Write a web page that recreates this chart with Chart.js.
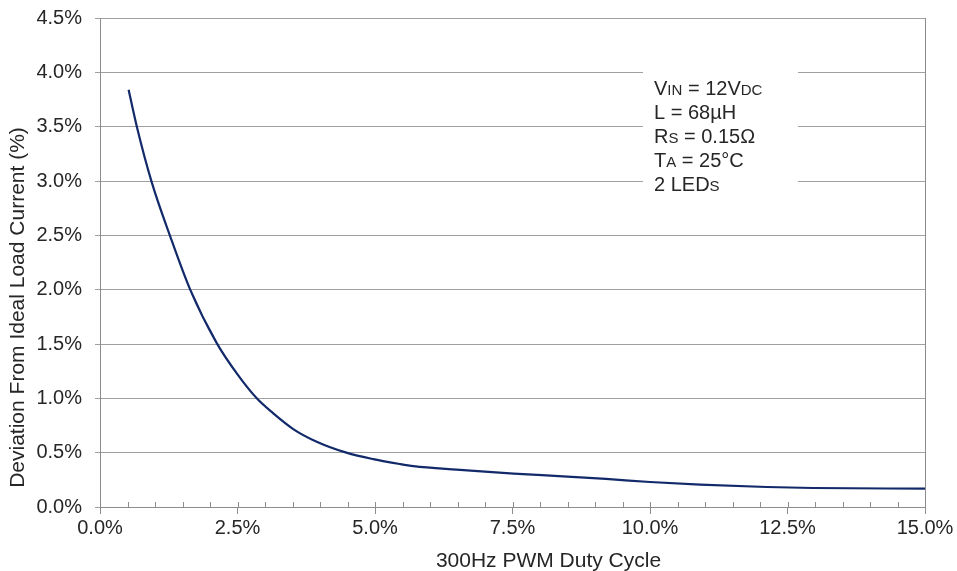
<!DOCTYPE html>
<html>
<head>
<meta charset="utf-8">
<script src="https://cdn.jsdelivr.net/npm/chart.js@4/dist/chart.umd.min.js"></script>
<style>
  html, body { margin: 0; padding: 0; background: #ffffff; }
  #wrap { width: 957px; height: 571px; }
</style>
</head>
<body>
<div id="wrap"><canvas id="c" width="957" height="571"></canvas></div>
<script>
// ---- data ----
const dutyCycle = [0.52, 0.67, 0.94, 1.27, 1.64, 2.12, 2.5, 2.85, 3.15, 3.52, 3.94, 4.48, 4.97, 5.45, 5.7, 6.48, 7.52, 8.42, 9.2, 10.0, 10.91, 12.12, 12.97, 15.0];
const deviation = [3.84, 3.50, 2.99, 2.50, 2.00, 1.51, 1.22, 1.00, 0.862, 0.715, 0.601, 0.50, 0.44, 0.396, 0.377, 0.344, 0.307, 0.282, 0.258, 0.23, 0.206, 0.184, 0.175, 0.169];
const xTickValues = [0, 2.5, 5, 7.5, 10, 12.5, 15];
const yTickValues = [0, 0.5, 1, 1.5, 2, 2.5, 3, 3.5, 4, 4.5];
const xTitle = '300Hz PWM Duty Cycle';
const yTitle = 'Deviation From Ideal Load Current (%)';
// annotation lines: [text, isSubscript] segments
const noteLines = [
  [['V', false], ['IN', true], [' = 12V', false], ['DC', true]],
  [['L = 68\u00B5H', false]],
  [['R', false], ['S', true], [' = 0.15\u03A9', false]],
  [['T', false], ['A', true], [' = 25\u00B0C', false]],
  [['2 LED', false], ['S', true]]
];

const FONT = "'Liberation Sans', Arial, sans-serif";
const TEXT = '#262626';
const points = dutyCycle.map((x, i) => ({ x: x, y: deviation[i] }));

const extras = {
  id: 'extras',
  beforeDatasetsDraw(chart) {
    const ctx = chart.ctx;
    const xs = chart.scales.x, ys = chart.scales.y;
    const ca = chart.chartArea;
    ctx.save();
    // right border
    ctx.strokeStyle = '#8c8c8c';
    ctx.lineWidth = 1;
    ctx.beginPath();
    ctx.moveTo(Math.round(ca.right) + 0.5, ca.top);
    ctx.lineTo(Math.round(ca.right) + 0.5, ca.bottom);
    ctx.stroke();
    // inner tick marks on x axis every 0.5%
    for (let v = 0; v <= 15.0001; v += 0.5) {
      const px = Math.round(xs.getPixelForValue(v)) + 0.5;
      ctx.beginPath();
      ctx.moveTo(px, ca.bottom - 5);
      ctx.lineTo(px, ca.bottom);
      ctx.stroke();
    }
    // y axis title, placed a little below centre as in the reference
    ctx.save();
    ctx.translate(18, (ca.top + ca.bottom) / 2 + 45);
    ctx.rotate(-Math.PI / 2);
    ctx.font = '21px ' + FONT;
    ctx.fillStyle = TEXT;
    ctx.textAlign = 'center';
    ctx.textBaseline = 'middle';
    ctx.fillText(yTitle, 0, 0);
    ctx.restore();
    // x axis title, a little right of centre as in the reference
    ctx.font = '21px ' + FONT;
    ctx.fillStyle = TEXT;
    ctx.textAlign = 'center';
    ctx.textBaseline = 'middle';
    ctx.fillText(xTitle, (ca.left + ca.right) / 2 + 36, chart.height - 10);
    // annotation box
    const bx = xs.getPixelForValue(10) - 7;
    const by = ys.getPixelForValue(4.0) - 8;
    const bw = 155;
    const bh = ys.getPixelForValue(3.0) - by + 14;
    ctx.fillStyle = '#ffffff';
    ctx.fillRect(bx, by, bw, bh);
    // annotation text
    ctx.fillStyle = TEXT;
    ctx.textBaseline = 'alphabetic';
    ctx.textAlign = 'left';
    let baseY = ys.getPixelForValue(4.0) + 23;
    const tx = xs.getPixelForValue(10) + 4;
    noteLines.forEach(line => {
      let cx = tx;
      line.forEach(([txt, sub]) => {
        ctx.font = (sub ? '15px ' : '20px ') + FONT;
        ctx.fillText(txt, cx, baseY);
        cx += ctx.measureText(txt).width;
      });
      baseY += 24;
    });
    ctx.restore();
  }
};

new Chart(document.getElementById('c'), {
  type: 'scatter',
  data: {
    datasets: [{
      data: points,
      showLine: true,
      borderColor: '#12296a',
      borderWidth: 2.2,
      pointRadius: 0,
      fill: false,
      cubicInterpolationMode: 'monotone'
    }]
  },
  options: {
    responsive: false,
    devicePixelRatio: 1,
    animation: false,
    layout: { padding: { top: 18, right: 32, left: 0, bottom: 0 } },
    plugins: { legend: { display: false }, tooltip: { enabled: false } },
    scales: {
      x: {
        type: 'linear',
        min: 0, max: 15,
        afterBuildTicks(scale) { scale.ticks = xTickValues.map(v => ({ value: v })); },
        afterFit(scale) { scale.height = 64; scale.paddingLeft = 0; scale.paddingRight = 0; },
        ticks: {
          callback: v => v.toFixed(1) + '%',
          color: TEXT,
          font: { family: FONT, size: 20 },
          padding: 2,
          maxRotation: 0
        },
        grid: { drawOnChartArea: false, drawTicks: true, tickLength: 7, color: '#8c8c8c', lineWidth: 1 },
        border: { display: true, color: '#8c8c8c', width: 1 }
      },
      y: {
        type: 'linear',
        min: 0, max: 4.5,
        afterBuildTicks(scale) { scale.ticks = yTickValues.map(v => ({ value: v })); },
        afterFit(scale) { scale.width = 100; scale.paddingTop = 0; scale.paddingBottom = 0; },
        ticks: {
          callback: v => v.toFixed(1) + '%',
          color: TEXT,
          font: { family: FONT, size: 20 },
          padding: 13
        },
        grid: { drawOnChartArea: true, drawTicks: true, tickLength: 5, color: '#a0a0a0', lineWidth: 1 },
        border: { display: true, color: '#8c8c8c', width: 1 }
      }
    }
  },
  plugins: [extras]
});
</script>
</body>
</html>
